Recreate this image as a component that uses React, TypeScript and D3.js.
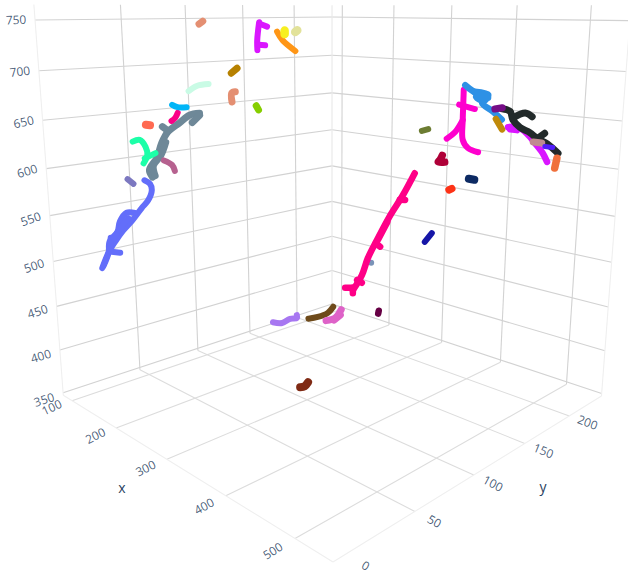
import React from "react";
import * as d3 from "d3";

// Axis ticks
const xTicks = [100, 200, 300, 400, 500];
const yTicks = [0, 50, 100, 150, 200];
const zTicks = [350, 400, 450, 500, 550, 600, 650, 700, 750];

// Depth cannot be read from a flat picture, so each group sits on one assumed plane.
const leftGroupX = 150;
const floorGroupX = 300;
const rightGroupY = 190;

// Left group: y, z pairs at x = leftGroupX. Each trace is a list of branches.
const leftYZ: number[][][] = [
  [[37,586,41,581,42,574,39,564,34,557,27,546,20,537,14,527,9,517,4,502],[29,553,23,555,18,547,16,537,10,528,9,517,5,504],[17,514,11,517],[11,532,10,521],[24,549,18,540,13,531]],
  [[25,590,29,584]],
  [[43,588,41,596,47,608,51,623,56,634,65,642,73,649,81,650],[81,648,75,641],[56,635,52,640],[45,589,44,600,50,610,54,623]],
  [[30,628,35,629,39,621,40,612,37,604],[38,609,46,613]],
  [[52,604,58,598,60,591]],
  [[40,644,43,643]],
  [[64,653,62,648,59,645]],
  [[60,662,64,659,71,658]],
  [[73,675,80,680,89,681]],
  [[83,745,86,748]],
  [[111,670,108,669,108,659]],
  [[108,691,113,696]],
  [[129,652,131,647]],
  [[133,746,131,726,131,715],[134,744,140,741],[132,721,138,720]],
  [[149,735,154,725,166,712]],
  [[156,736,156,732]],
  [[166,734,168,736]],
  [[141,383,150,378,158,380,165,378,165,382]],
  [[177,372,187,370,198,371,204,377]],
  [[196,361,206,360,213,369],[205,358,212,362]],
];
const leftColors = ["#636EFA","#7C78C0","#6E8898","#1CFFA8","#B6618F","#FF6A52","#FA0087","#00B5F7","#C9FBE5","#E48F72","#E48F72","#B68100","#86CE00","#DA16FF","#FF9616","#F7EF20","#E2E29A","#A777F1","#6E4A1A","#DE62C8"];
const leftWidths = [6,6,7,6,6,8,6,6,6,7,7,7,7,6,6,8.5,8.5,6,6,7];

// Floor group: y, z pairs at x = floorGroupX.
const floorYZ: number[][][] = [[[94,365,98,364,101,367]]];
const floorColors = ["#7F2A14"];
const floorWidths = [8];

// Right group: x, z pairs at y = rightGroupY.
const rightXZ: number[][][] = [
  [[249,461,249,461]],
  [[263,399,264,403]],
  [[322,580,303,552,282,525,261,494,243,466,232,442,215,419],[215,422,200,419],[215,422,215,415],[265,484,257,487],[307,547,298,546],[232,432,223,434],[261,492,277,516]],
  [[341,503,352,515]],
  [[406,584,414,584]],
  [[377,568,381,570]],
  [[365,605,362,600,359,597,369,598]],
  [[332,629,342,632]],
  [[394,678,394,664,394,646,395,625,403,617,418,614],[394,646,383,632,371,624],[388,662,411,659]],
  [[458,644,471,645,483,640,497,629,505,622,511,614],[461,642,470,642]],
  [[449,662,460,660,464,652,474,645,487,641,497,636,510,632,524,624],[464,654,480,660,489,657],[497,636,506,642]],
  [[396,683,406,678,418,674,427,675,425,671,421,666,437,658,449,651],[410,677,429,675,423,668,412,672,429,672]],
  [[439,661,449,663]],
  [[441,651,450,641]],
  [[492,632,503,632]],
  [[507,629,517,629]],
  [[523,619,521,609]],
];
const rightColors = ["#7A93B8","#660044","#FF0087","#1616A7","#0D2A63","#FD3216","#AF0038","#6C7C32","#FE00CE","#DA16FF","#222A2A","#2E91E5","#750D86","#C08A0A","#C08A90","#511CFB","#F0703C"];
const rightWidths = [6,6.5,6.5,6,8,7.5,7.5,6,6,6.5,7,6.5,7,6.5,7,5,7.5];

// Label rotations
const xRot = [-25, -27, -27, -29, -32];
const yRot = [30, 30, 28, 22, 21];
const zRot = [-18, -17, -18, -19, -20, -17, -13, -7, -2];

const sx = d3.scaleLinear().domain([78.7, 548.4]).range([0, 1]);
const sy = d3.scaleLinear().domain([-8.5, 240.5]).range([0, 1]);
const sz = d3.scaleLinear().domain([347, 750]).range([0, 1]);

function proj(x: number, y: number, z: number): [number, number] {
  const a = sx(x), b = sy(y), c = sz(z);
  const w = 1 - 0.2997 * a + 0.2994 * b - 0.0953 * c;
  return [(63.3 + 169.9 * a + 368.1 * b - 31.6 * c) / w, (395.3 - 1.7 * a + 2.3 * b - 377.2 * c) / w];
}

const line = d3.line<[number, number]>().curve(d3.curveCatmullRom.alpha(0.5));
const wallC = "#d2d2d2";
const floorC = "#dcdcdc";
const fontF = "'Open Sans', sans-serif";
const txt = "#2a3f5f";

type Mark = { d: string; color: string; w: number };
function marks(traces: number[][][], colors: string[], widths: number[], to3d: (p: number, q: number) => [number, number, number]): Mark[] {
  const out: Mark[] = [];
  traces.forEach((branches, i) => branches.forEach((b) => {
    const pts: [number, number][] = [];
    for (let n = 0; n < b.length; n += 2) {
      const [x, y, z] = to3d(b[n], b[n + 1]);
      pts.push(proj(x, y, z));
    }
    out.push({ d: line(pts) || "", color: colors[i], w: widths[i] });
  }));
  return out;
}

export default function App() {
  const L: { k: string; a: [number, number]; b: [number, number]; c: string; w: number }[] = [];
  const add = (k: string, a: [number, number], b: [number, number], c: string, w = 1.1) => L.push({ k, a, b, c, w });
  const [x0, x1] = sx.domain(), [y0, y1] = sy.domain();
  zTicks.forEach((z) => {
    add("zl" + z, proj(x0, y0, z), proj(x0, y1, z), wallC);
    add("zr" + z, proj(x0, y1, z), proj(x1, y1, z), wallC);
  });
  xTicks.forEach((x) => {
    add("xv" + x, proj(x, y1, 347), proj(x, y1, 765), wallC);
    add("xf" + x, proj(x, y0, 347), proj(x, y1, 347), floorC);
  });
  yTicks.slice(1).forEach((y) => {
    add("yv" + y, proj(x0, y, 347), proj(x0, y, 765), wallC);
    add("yf" + y, proj(x0, y, 347), proj(x1, y, 347), floorC);
  });
  add("e1", proj(x0, y0, 347), proj(x1, y0, 347), "#efefef");
  add("e2", proj(x1, y0, 347), proj(x1, y1, 347), "#efefef");
  add("e3", proj(x0, y0, 347), proj(x0, y0, 765), "#efefef");
  add("e4", proj(x1, y1, 347), proj(x1, y1, 765), "#efefef");
  add("e5", proj(x0, y1, 347), proj(x0, y1, 765), "#e8e8e8");
  const all = [
    ...marks(leftYZ, leftColors, leftWidths, (y, z) => [leftGroupX, y, z]),
    ...marks(floorYZ, floorColors, floorWidths, (y, z) => [floorGroupX, y, z]),
    ...marks(rightXZ, rightColors, rightWidths, (x, z) => [x, rightGroupY, z]),
  ];
  return (
    <svg width={628} height={574} style={{ position: "absolute", left: 0, top: 0 }}>
      <rect width={628} height={574} fill="#fff" />
      {L.map((l) => <line key={l.k} x1={l.a[0]} y1={l.a[1]} x2={l.b[0]} y2={l.b[1]} stroke={l.c} strokeWidth={l.w} />)}
      {all.map((m, i) => <path key={i} d={m.d} fill="none" stroke={m.color} strokeWidth={m.w} strokeLinecap="round" strokeLinejoin="round" />)}
      {xTicks.map((t, i) => { const p = proj(t, y0 - 14, 347); return <text key={t} transform={`translate(${p[0]},${p[1]}) rotate(${xRot[i]})`} textAnchor="middle" dy="0.35em" fontFamily={fontF} fontSize={12} fill={txt} fillOpacity={0.85}>{t}</text>; })}
      {yTicks.map((t, i) => { const p = proj(x1 + 23.5, t, 347); return <text key={t} transform={`translate(${p[0]},${p[1]}) rotate(${yRot[i]})`} textAnchor="middle" dy="0.35em" fontFamily={fontF} fontSize={12} fill={txt} fillOpacity={0.85}>{t}</text>; })}
      {zTicks.map((t, i) => { const p = proj(x0, y0, t); const dy = (1 - sz(t)) * 7; return <text key={t} transform={`translate(${p[0] - 19},${p[1] + dy}) rotate(${zRot[i]})`} textAnchor="middle" dy="0.35em" fontFamily={fontF} fontSize={12} fill={txt} fillOpacity={0.85}>{t}</text>; })}
      <text x={122} y={488} dy="0.35em" textAnchor="middle" fontFamily={fontF} fontSize={14} fill={txt}>x</text>
      <text x={543} y={487} dy="0.35em" textAnchor="middle" fontFamily={fontF} fontSize={14} fill={txt}>y</text>
    </svg>
  );
}
